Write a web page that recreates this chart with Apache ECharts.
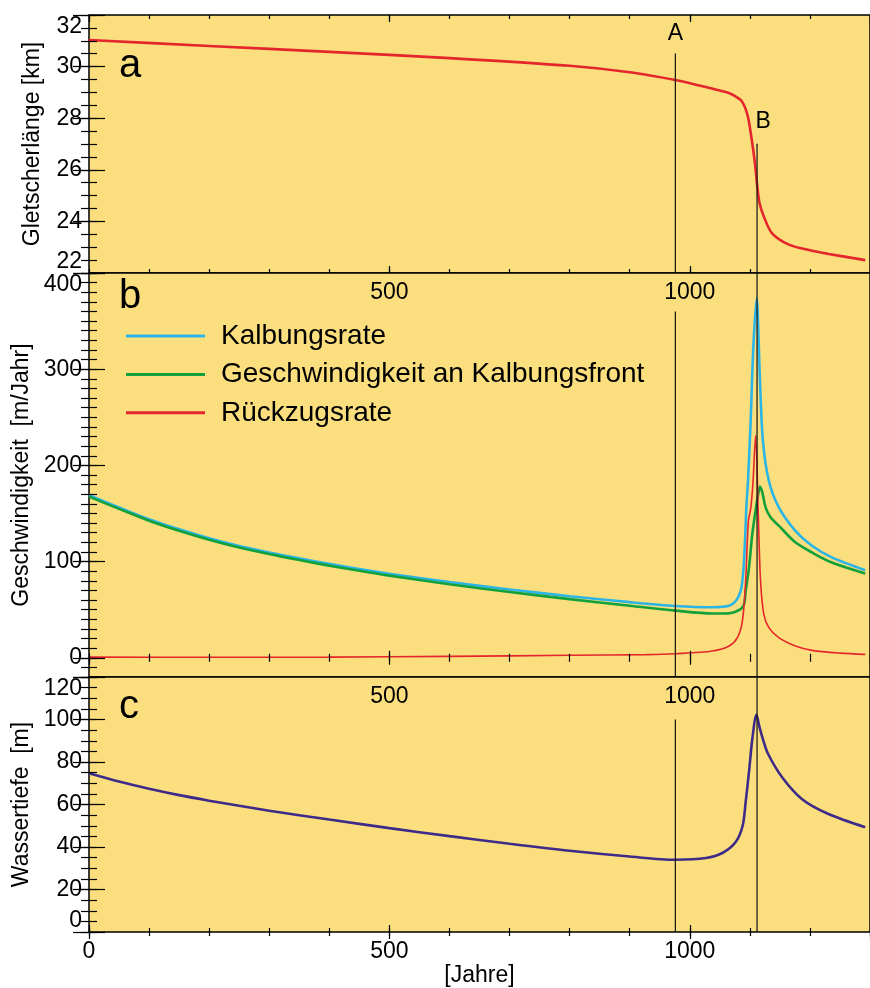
<!DOCTYPE html>
<html><head><meta charset="utf-8">
<script src="https://cdn.jsdelivr.net/npm/echarts@6/dist/echarts.min.js"></script>
<style>html,body{margin:0;padding:0;background:#fff}#c{width:870px;height:988px}</style>
</head><body><div id="c"></div>
<script>
// ---------- data ----------
const lenYears = [0, 200, 400, 600, 800, 900, 976, 1010, 1040, 1066, 1077, 1085, 1090, 1094, 1098, 1104, 1108.5, 1112.4, 1116.2, 1123.4, 1137, 1165, 1200, 1231, 1292];
const lenKm    = [31.03, 30.8, 30.57, 30.33, 30.03, 29.78, 29.48, 29.3, 29.13, 28.97, 28.83, 28.7, 28.52, 28.28, 27.93, 27.03, 26.25, 25.35, 24.7, 24.18, 23.54, 23.1, 22.88, 22.74, 22.5];

const calvYears = [0, 50, 100, 150, 200, 250, 300, 350, 400, 450, 500, 600, 700, 800, 900, 976, 1038, 1065.5, 1076.6, 1084.8, 1088.7, 1091.5, 1094.2, 1096.9, 1101.4, 1105.8, 1111.3, 1116.8, 1121.7, 1131.6, 1148.2, 1175.8, 1203.4, 1236.5, 1292];
const calvRate  = [169, 156.3, 144, 133.5, 124.3, 116.3, 109.5, 103.3, 97.6, 92.3, 87.4, 78.7, 71, 64, 57.8, 53.8, 52.5, 54, 59, 69.5, 87, 114.7, 156.4, 184, 246.8, 323, 373.7, 288.5, 226, 184, 156.4, 132, 116.5, 104.3, 91];

const frontYears = [0, 50, 100, 150, 200, 250, 300, 350, 400, 450, 500, 600, 700, 800, 900, 976, 1038, 1066, 1084.8, 1090.4, 1093.1, 1098.6, 1104.1, 1109.6, 1114, 1116.8, 1120.7, 1126.2, 1134.4, 1148.2, 1175.8, 1203.4, 1236.5, 1292];
const frontVel   = [167.5, 154.8, 142.5, 132, 122.7, 114.6, 107.8, 101.6, 95.8, 90.4, 85.4, 76.4, 68.4, 61, 54.1, 49, 46, 46.3, 50.5, 55.7, 69.5, 93.8, 128.7, 153, 170.4, 178, 172, 156.4, 146, 137.3, 120, 109.5, 99, 87.6];

const retrYears = [0, 200, 400, 600, 800, 928, 976, 1038, 1065.5, 1079.3, 1087.6, 1093, 1097.5, 1101.4, 1105, 1109.6, 1114, 1117.8, 1123.3, 1131.6, 1148.2, 1175.8, 1203.4, 1250, 1292];
const retrRate  = [0.7, 0.5, 0.7, 1.4, 2.6, 3.3, 4.2, 7, 12.2, 20.9, 38, 80, 142, 155, 180, 231, 149.5, 80, 45, 31.3, 20.9, 12.2, 7.7, 4.8, 3.5];

const depthYears = [0, 50, 100, 150, 200, 250, 300, 400, 500, 600, 700, 800, 900, 976, 1027, 1055, 1077, 1088, 1093, 1099, 1104, 1111, 1116, 1122, 1130, 1154, 1187, 1231, 1292];
const depthM     = [74.7, 70.8, 67.4, 64.4, 61.8, 59.4, 57.1, 52.9, 48.9, 45.1, 41.5, 38.2, 35.5, 34.0, 34.8, 37.3, 42.6, 50, 61, 76.5, 90.6, 102.2, 96.5, 90.5, 84, 72.7, 62.5, 55.5, 49.3];

const markerLabels   = ['A', 'B'];
const markerYears    = [976, 1112];
const markerTopKm    = [30.5, 27.0];
const markerTopVel   = [360, 400];
const markerTopDepth = [100, 120];

const legendNames = ['Kalbungsrate', 'Geschwindigkeit an Kalbungsfront', 'Rückzugsrate'];
const yNames = ['Gletscherlänge [km]', 'Geschwindigkeit  [m/Jahr]', 'Wassertiefe  [m]'];
const panelLetters = ['a', 'b', 'c'];
const xName = '[Jahre]';

// axis ranges / ticks
const xMin = 0, xMax = 1300, xMajor = 500, xMinor = 100;
const yMins = [22, -20, 0], yMaxs = [32, 400, 120];
const yMajors = [2, null, 20], yMinors = [0.5, 10, 5];

// ---------- styling ----------
const FONT = 'Liberation Sans, Arial, Helvetica, sans-serif';
const BG = '#FBDF7E';
const RED = '#E4262C', BLUE = '#2BB5E6', GREEN = '#12A03B', PURPLE = '#3E2B89';
const grids = [
  {left: 89, width: 786, top: 15, height: 258},
  {left: 89, width: 786, top: 273, height: 404},
  {left: 89, width: 786, top: 677, height: 257}
].map(g => Object.assign(g, {show: true, backgroundColor: BG, borderColor: '#000', borderWidth: 1.5, containLabel: false}));

const tickStyle = {color: '#000', width: 1.2};
const lab = {fontFamily: FONT, fontSize: 23, color: '#000'};
const plain = v => String(v);

const xAxis = [], yAxis = [];
for (let g = 0; g < 3; g++) {
  const base = {type: 'value', gridIndex: g, min: xMin, max: xMax, splitLine: {show: false}, axisLine: {show: false}, z: 10};
  xAxis.push(Object.assign({}, base, {
    position: 'bottom', interval: xMajor,
    axisTick: {show: true, inside: true, length: 7, lineStyle: tickStyle},
    axisLabel: Object.assign({show: true, margin: 8, formatter: plain, showMinLabel: g === 2, showMaxLabel: false}, lab),
    name: g === 2 ? xName : '', nameLocation: 'middle', nameGap: 32, nameTextStyle: lab
  }));
  xAxis.push(Object.assign({}, base, {position: 'bottom', interval: xMinor,
    axisTick: {show: true, inside: true, length: 4, lineStyle: tickStyle}, axisLabel: {show: false}}));
  xAxis.push(Object.assign({}, base, {position: 'top', interval: xMajor,
    axisTick: {show: true, inside: true, length: 7, lineStyle: tickStyle}, axisLabel: {show: false}}));
  xAxis.push(Object.assign({}, base, {position: 'top', interval: xMinor,
    axisTick: {show: true, inside: true, length: 4, lineStyle: tickStyle}, axisLabel: {show: false}}));

  const yb = {type: 'value', gridIndex: g, min: yMins[g], max: yMaxs[g], splitLine: {show: false}, axisLine: {show: false}, z: 10};
  const major = yMajors[g] ? {interval: yMajors[g]} : {splitNumber: 4};
  yAxis.push(Object.assign({}, yb, major, {
    position: 'left',
    axisTick: {show: true, inside: true, length: 16, lineStyle: tickStyle},
    axisLabel: Object.assign({show: true, margin: 7, formatter: plain, showMinLabel: g !== 1,
      verticalAlignMaxLabel: 'top', verticalAlignMinLabel: 'bottom'}, lab),
    name: yNames[g], nameLocation: 'middle', nameGap: 45, nameRotate: 90, nameTextStyle: lab
  }));
  yAxis.push(Object.assign({}, yb, {position: 'left', interval: yMinors[g],
    axisTick: {show: true, inside: true, length: 8, lineStyle: tickStyle}, axisLabel: {show: false}}));
  yAxis.push(Object.assign({}, yb, major, {position: 'right',
    axisTick: {show: true, inside: true, length: 16, lineStyle: tickStyle}, axisLabel: {show: false}}));
  yAxis.push(Object.assign({}, yb, {position: 'right', interval: yMinors[g],
    axisTick: {show: true, inside: true, length: 8, lineStyle: tickStyle}, axisLabel: {show: false}}));
}

const pairs = (xs, ys) => xs.map((x, i) => [x, ys[i]]);
function curve(name, g, xs, ys, color, width) {
  return {type: 'line', name: name, xAxisIndex: g * 4, yAxisIndex: g * 4, data: pairs(xs, ys),
    symbol: 'none', showSymbol: false, smooth: 0.3,
    lineStyle: {color: color, width: width}, itemStyle: {color: color}, z: 3};
}
function marker(g, i, bottom, top, withLabel) {
  const topPt = {value: [markerYears[i], top]};
  if (withLabel) {
    topPt.symbol = 'circle'; topPt.symbolSize = 1;
    topPt.label = Object.assign({show: true, formatter: markerLabels[i], position: 'top',
      distance: i === 0 ? 8 : 10, offset: i === 0 ? [0, 0] : [6, 0]}, lab);
  }
  return {type: 'line', name: 'marker' + markerLabels[i] + g, xAxisIndex: g * 4, yAxisIndex: g * 4,
    data: [{value: [markerYears[i], bottom], symbol: 'none'}, topPt],
    symbol: 'none', lineStyle: {color: '#111', width: 1.2}, itemStyle: {color: '#111'}, z: 4, silent: true};
}

const series = [
  curve('Gletscherlänge', 0, lenYears, lenKm, RED, 2.6),
  curve(legendNames[0], 1, calvYears, calvRate, BLUE, 2.6),
  curve(legendNames[1], 1, frontYears, frontVel, GREEN, 2.6),
  curve(legendNames[2], 1, retrYears, retrRate, RED, 1.6),
  curve('Wassertiefe', 2, depthYears, depthM, PURPLE, 2.6)
];
for (let i = 0; i < markerYears.length; i++) {
  series.push(marker(0, i, yMins[0], markerTopKm[i], true));
  series.push(marker(1, i, yMins[1], markerTopVel[i], false));
  series.push(marker(2, i, yMins[2], markerTopDepth[i], false));
}

const titleTops = [46, 277, 687];
const title = panelLetters.map((t, i) => ({text: t, left: 119, top: titleTops[i], padding: 0,
  textStyle: {fontFamily: FONT, fontSize: 40, fontWeight: 'normal', color: '#000'}}));

const chart = echarts.init(document.getElementById('c'), null, {renderer: 'canvas'});
chart.setOption({
  animation: false,
  backgroundColor: '#fff',
  title: title,
  grid: grids,
  xAxis: xAxis,
  yAxis: yAxis,
  legend: {orient: 'vertical', left: 126, top: 322, padding: 0, itemWidth: 79, itemHeight: 3, itemGap: 10.4,
    icon: 'rect', selectedMode: false, data: legendNames,
    textStyle: {fontFamily: FONT, fontSize: 28, color: '#000', padding: [0, 0, 0, 11], lineHeight: 28}},
  series: series
});
</script></body></html>
